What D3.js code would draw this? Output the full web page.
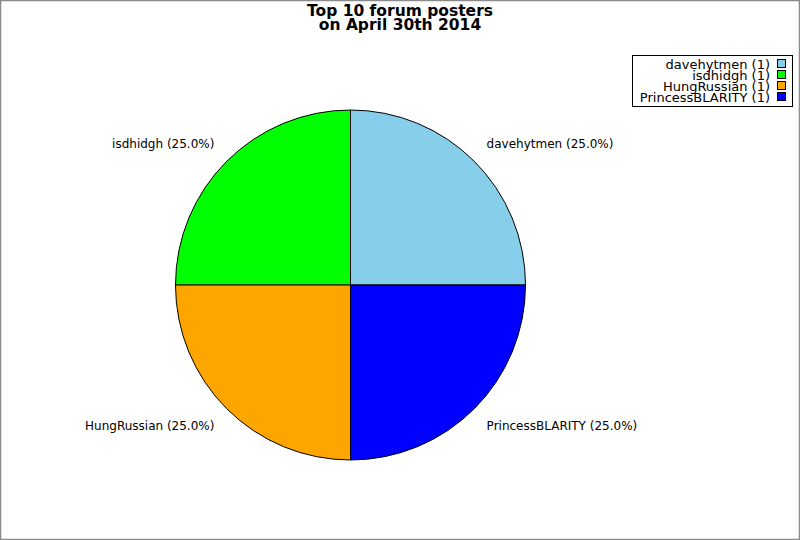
<!DOCTYPE html>
<html>
<head>
<meta charset="utf-8">
<script src="https://cdn.jsdelivr.net/npm/d3@7"></script>
<style>
  body { margin: 0; background: #fff; }
  text { font-family: "DejaVu Sans", sans-serif; fill: #000; }
</style>
</head>
<body>
<svg id="chart" width="800" height="540"></svg>
<script>
// chart data
var posters = ["davehytmen", "isdhidgh", "HungRussian", "PrincessBLARITY"];
var posts = [1, 1, 1, 1];
var colors = ["#87ceeb", "#00ff00", "#ffa500", "#0000ff"];
var title_lines = ["Top 10 forum posters", "on April 30th 2014"];

var width = 800, height = 540;
var cx = 350.5, cy = 285, radius = 175;

var svg = d3.select("#chart");

// outer frame
svg.append("rect")
    .attr("x", 0.5).attr("y", 0.5)
    .attr("width", width - 1).attr("height", height - 1)
    .attr("fill", "#fff")
    .attr("stroke", "#8c8c8c")
    .attr("stroke-width", 1.5);

// title
svg.selectAll(".title")
    .data(title_lines)
  .enter().append("text")
    .attr("class", "title")
    .attr("x", width / 2)
    .attr("y", function(d, i) { return 16 + i * 13.5; })
    .attr("text-anchor", "middle")
    .style("font-weight", "bold")
    .style("font-size", "15.5px")
    .text(function(d) { return d; });

var total = d3.sum(posts);
var data = posters.map(function(p, i) { return {name: p, value: posts[i], color: colors[i]}; });

// counter-clockwise, starting at 3 o'clock
var pie = d3.pie()
    .sort(null)
    .value(function(d) { return d.value; })
    .startAngle(Math.PI / 2)
    .endAngle(Math.PI / 2 - 2 * Math.PI);

var arc = d3.arc().innerRadius(0).outerRadius(radius);

var g = svg.append("g").attr("transform", "translate(" + cx + "," + cy + ")");

var slices = pie(data);

g.selectAll(".slice")
    .data(slices)
  .enter().append("path")
    .attr("class", "slice")
    .attr("d", arc)
    .attr("fill", function(d) { return d.data.color; })
    .attr("stroke", "#000")
    .attr("stroke-width", 1);

function mid(d) { return (d.startAngle + d.endAngle) / 2; }

// slice labels sit a bit outside the pie
g.selectAll(".label")
    .data(slices)
  .enter().append("text")
    .attr("class", "label")
    .attr("x", function(d) { return Math.sin(mid(d)) * radius * 1.1; })
    .attr("y", function(d) { return -Math.cos(mid(d)) * radius * 1.14; })
    .attr("dy", "0.35em")
    .attr("text-anchor", function(d) { return Math.sin(mid(d)) >= 0 ? "start" : "end"; })
    .style("font-size", "12px")
    .text(function(d) {
        return d.data.name + " (" + (100 * d.data.value / total).toFixed(1) + "%)";
    });

// legend
var lx = 632, ly = 55, lw = 160, lh = 51, row = 11;

svg.append("rect")
    .attr("x", lx + 0.5).attr("y", ly + 0.5)
    .attr("width", lw).attr("height", lh)
    .attr("fill", "#fff")
    .attr("stroke", "#000");

var items = svg.selectAll(".legend")
    .data(data)
  .enter().append("g")
    .attr("class", "legend")
    .attr("transform", function(d, i) { return "translate(0," + (ly + 9 + i * row) + ")"; });

items.append("text")
    .attr("x", lx + lw - 22)
    .attr("dy", "0.35em")
    .attr("text-anchor", "end")
    .style("font-size", "13px")
    .text(function(d) { return d.name + " (" + d.value + ")"; });

items.append("rect")
    .attr("x", lx + lw - 14.5)
    .attr("y", -4.5)
    .attr("width", 8).attr("height", 8)
    .attr("fill", function(d) { return d.color; })
    .attr("stroke", "#000");
</script>
</body>
</html>
